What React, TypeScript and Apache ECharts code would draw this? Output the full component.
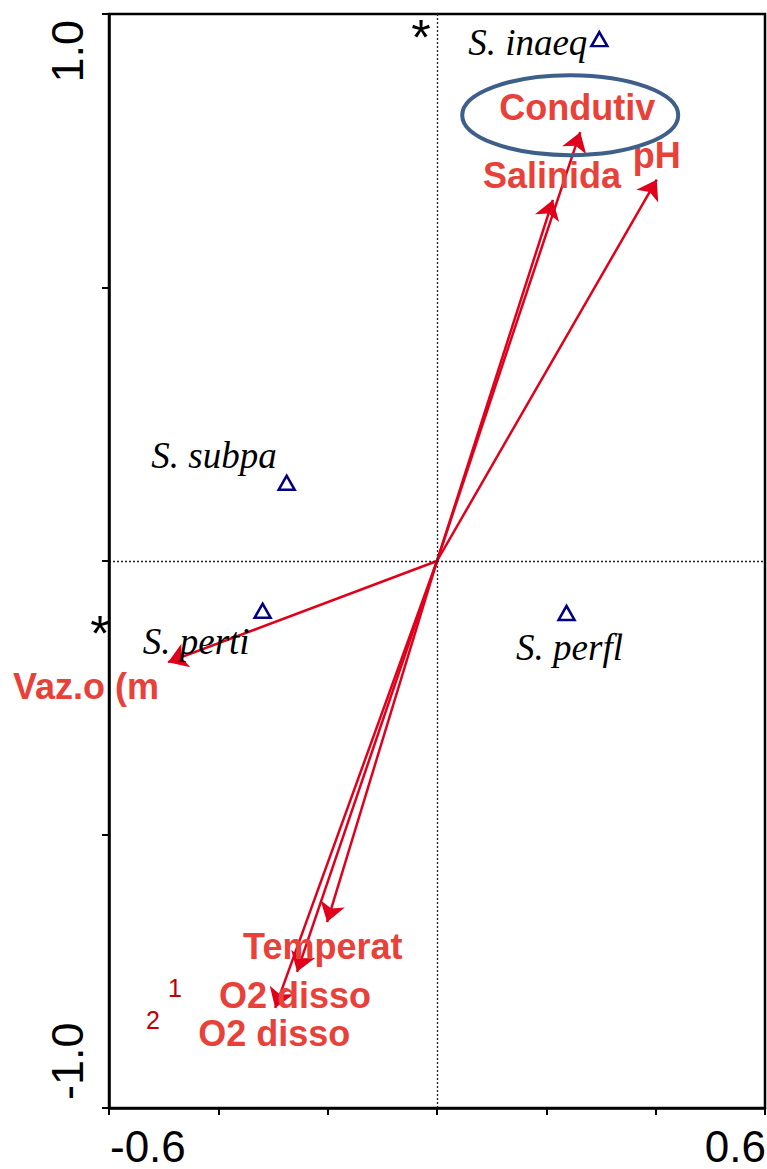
import React, { useEffect, useRef } from 'react';
import * as echarts from 'echarts';

// Species scores (triangles)
const speciesNames = ['S. inaeq', 'S. subpa', 'S. perti', 'S. perfl'];
const speciesX = [0.297, -0.275, -0.319, 0.237];
const speciesY = [0.954, 0.143, -0.091, -0.095];

// Environmental vectors (arrows from origin)
const envNames = ['Condutiv', 'Salinida', 'pH', 'Vaz.o (m', 'Temperat', 'O2 disso', 'O2 disso'];
const envX = [0.262, 0.212, 0.402, -0.492, -0.201, -0.256, -0.296];
const envY = [0.784, 0.66, 0.697, -0.185, -0.66, -0.751, -0.817];

// Axis tick labels (only the end values are labelled)
const xTickValues = [-0.6, 0.6];
const xTickLabels = ['-0.6', '0.6'];
const yTickValues = [-1.0, 1.0];
const yTickLabels = ['-1.0', '1.0'];

// Label placement styles
const speciesLabelAlign = ['right', 'right', 'right', 'center'];
const speciesLabelOffset = [[-12, 3], [-10, -27], [-13, 31], [3, 35]];
const envLabelOffset = [[-81, -25], [-70, -24], [-24, -24], [-155, 24], [-84, 24], [-78, 24], [-77, 26]];

const SANS = '"Liberation Sans", Arial, sans-serif';
const SERIF = '"Liberation Serif", "Times New Roman", serif';
const ARROW = '#e0001b';
const LABEL_RED = '#e8413a';
const NAVY = '#000080';

export default function App() {
  const ref = useRef<HTMLDivElement>(null);

  useEffect(() => {
    if (!ref.current) return;
    const chart = echarts.init(ref.current, null, { renderer: 'svg' });

    const axisCommon = {
      type: 'value' as const,
      axisLine: { show: true, onZero: false, lineStyle: { color: '#000', width: 2.5 } },
      axisTick: { show: true, inside: false, length: 7, lineStyle: { color: '#000', width: 2 } },
      axisLabel: { show: false },
      splitLine: { show: false },
      z: 5,
    };

    const option: any = {
      animation: false,
      backgroundColor: '#fff',
      grid: { left: 109, right: 2, top: 14, bottom: 61, show: true, borderColor: '#000', borderWidth: 2.5 },
      xAxis: { ...axisCommon, min: -0.6, max: 0.6, interval: 0.2 },
      yAxis: { ...axisCommon, min: -1.0, max: 1.0, interval: 0.5 },
      series: [
        {
          type: 'lines',
          coordinateSystem: 'cartesian2d',
          symbol: ['none', 'arrow'],
          symbolSize: 19,
          lineStyle: { color: ARROW, width: 2.5, opacity: 1 },
          silent: true,
          z: 3,
          data: envNames.map((n, i) => ({ name: n, coords: [[0, 0], [envX[i], envY[i]]] })),
        },
        {
          type: 'scatter',
          symbol: 'circle',
          symbolSize: 2,
          itemStyle: { color: 'transparent', opacity: 1 },
          silent: true,
          z: 4,
          data: envNames.map((n, i) => ({
            name: n,
            value: [envX[i], envY[i]],
            label: {
              show: true,
              formatter: n,
              position: 'inside',
              align: 'left',
              verticalAlign: 'middle',
              offset: envLabelOffset[i],
              color: LABEL_RED,
              opacity: 1,
              fontFamily: SANS,
              fontWeight: 'bold',
              fontSize: 36,
            },
          })),
        },
        {
          type: 'scatter',
          symbol: 'triangle',
          symbolSize: [16, 14],
          itemStyle: { color: '#fff', borderColor: NAVY, borderWidth: 2.5, opacity: 1 },
          silent: true,
          z: 4,
          markLine: {
            silent: true,
            symbol: 'none',
            label: { show: false },
            lineStyle: { color: '#222', width: 1.3, type: [2, 2] },
            data: [{ xAxis: 0 }, { yAxis: 0 }],
          },
          data: speciesNames.map((n, i) => ({
            name: n,
            value: [speciesX[i], speciesY[i]],
            label: {
              show: true,
              formatter: n,
              position: 'inside',
              align: speciesLabelAlign[i],
              verticalAlign: 'middle',
              offset: speciesLabelOffset[i],
              color: '#000',
              opacity: 1,
              fontFamily: SERIF,
              fontStyle: 'italic',
              fontSize: 37,
            },
          })),
        },
      ],
    };
    chart.setOption(option);

    const px = (x: number, y: number) => chart.convertToPixel({ xAxisIndex: 0, yAxisIndex: 0 }, [x, y]) as number[];
    const graphics: any[] = [];
    xTickValues.forEach((v, i) => {
      const p = px(v, -1);
      graphics.push({
        type: 'text',
        x: p[0] + 1,
        y: p[1] + 38,
        style: {
          text: xTickLabels[i],
          fontFamily: SANS,
          fontSize: 44,
          fill: '#000',
          textAlign: i === 0 ? 'left' : 'right',
          textVerticalAlign: 'middle',
        },
      });
    });
    yTickValues.forEach((v, i) => {
      const p = px(-0.6, v);
      graphics.push({
        type: 'text',
        x: p[0] - 42,
        y: i === 0 ? p[1] - 8 : p[1] + 6,
        rotation: Math.PI / 2,
        style: {
          text: yTickLabels[i],
          fontFamily: SANS,
          fontSize: 45,
          fill: '#000',
          textAlign: i === 0 ? 'left' : 'right',
          textVerticalAlign: 'middle',
        },
      });
    });
    // highlight ellipse around "Condutiv"
    const c = px(envX[0], envY[0]);
    graphics.push({
      type: 'ellipse',
      shape: { cx: c[0] - 10, cy: c[1] - 17, rx: 108, ry: 40 },
      style: { fill: 'none', stroke: '#3e5f8a', lineWidth: 4 },
      z: 10,
    });
    // annotations
    const note = (t: string, x: number, y: number, size: number, color: string) =>
      graphics.push({ type: 'text', x, y, style: { text: t, fontFamily: SANS, fontSize: size, fill: color, textAlign: 'center', textVerticalAlign: 'middle' } });
    note('*', 421, 38, 50, '#000');
    note('*', 100, 634, 50, '#000');
    note('1', 175, 988, 25, '#c00000');
    note('2', 153, 1020, 25, '#c00000');

    chart.setOption({ graphic: graphics });

    return () => chart.dispose();
  }, []);

  return (
    <div
      ref={ref}
      style={{ position: 'fixed', left: 0, top: 0, width: 767, height: 1169, background: '#fff' }}
    />
  );
}
